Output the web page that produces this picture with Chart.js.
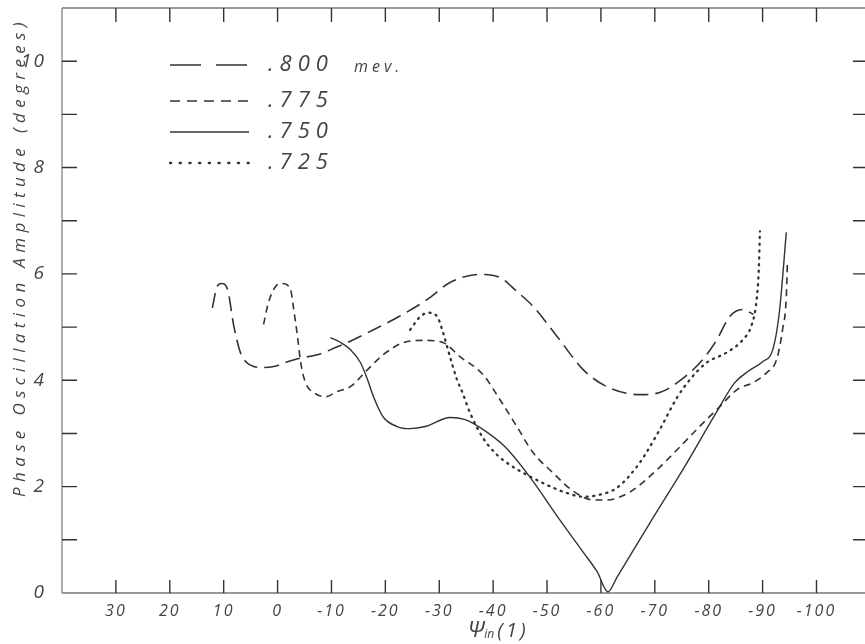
<!DOCTYPE html>
<html>
<head>
<meta charset="utf-8">
<script src="https://cdn.jsdelivr.net/npm/chart.js@4.4.1/dist/chart.umd.min.js"></script>
<style>
  html, body { margin: 0; padding: 0; background: #fff; }
  canvas { display: block; }
</style>
</head>
<body>
<canvas id="chart" width="865" height="644"></canvas>
<script>
// psi_in(1) in degrees, amplitude in degrees
const psi800 = [12.1, 11.2, 10.4, 9.3, 8.1, 6.9, 5.9, 4.4, 2.8, 0.7, -1.9, -3.9, -7.4, -11.1, -13.0, -17.8, -22.2, -27.8, -32.0, -37.6, -41.3, -44.4, -47.4, -51.9, -56.7, -61.1, -67.2, -70.9, -74.1, -78.9, -81.5, -83.9, -86.3, -88.3];
const amp800 = [5.36, 5.77, 5.82, 5.71, 5.01, 4.52, 4.35, 4.26, 4.24, 4.26, 4.35, 4.41, 4.48, 4.63, 4.71, 4.95, 5.18, 5.52, 5.84, 5.99, 5.93, 5.67, 5.39, 4.82, 4.20, 3.88, 3.73, 3.77, 3.95, 4.39, 4.76, 5.20, 5.33, 5.24];

const psi775 = [2.6, 1.7, 0.4, -0.9, -2.4, -3.0, -3.7, -4.3, -5.2, -6.7, -8.9, -11.1, -13.5, -16.7, -19.6, -24.1, -27.4, -30.7, -33.9, -38.1, -41.3, -44.4, -47.4, -51.1, -54.8, -58.5, -61.1, -65.4, -70.0, -74.1, -78.3, -82.0, -85.2, -88.5, -90.7, -92.6, -93.7, -94.4, -94.6];
const amp775 = [5.05, 5.46, 5.76, 5.82, 5.71, 5.33, 4.82, 4.33, 3.95, 3.77, 3.69, 3.79, 3.88, 4.20, 4.48, 4.73, 4.75, 4.71, 4.44, 4.11, 3.63, 3.13, 2.64, 2.26, 1.92, 1.75, 1.75, 1.90, 2.28, 2.69, 3.13, 3.50, 3.82, 3.97, 4.14, 4.39, 4.95, 5.57, 6.21];

const psi750 = [-9.8, -11.7, -13.5, -15.4, -16.7, -17.8, -19.6, -22.2, -24.6, -27.4, -32.0, -34.8, -37.6, -42.2, -46.9, -52.4, -56.7, -59.3, -61.3, -63.0, -69.1, -75.2, -81.5, -84.8, -87.2, -90.0, -91.9, -93.1, -94.4];
const amp750 = [4.80, 4.71, 4.58, 4.33, 4.01, 3.69, 3.31, 3.13, 3.09, 3.13, 3.30, 3.26, 3.11, 2.75, 2.17, 1.37, 0.77, 0.40, 0.02, 0.30, 1.32, 2.32, 3.41, 3.95, 4.16, 4.35, 4.58, 5.27, 6.78];

const psi725 = [-24.6, -26.5, -28.0, -29.6, -30.7, -32.0, -33.3, -34.3, -35.7, -38.1, -40.7, -43.1, -46.3, -50.0, -53.7, -56.7, -59.8, -63.0, -67.2, -70.9, -74.1, -76.5, -79.6, -83.3, -86.3, -88.0, -88.9, -89.3, -89.5];
const amp725 = [4.95, 5.20, 5.27, 5.20, 4.90, 4.44, 4.01, 3.77, 3.39, 2.92, 2.60, 2.41, 2.22, 2.03, 1.88, 1.81, 1.85, 1.98, 2.45, 3.07, 3.67, 4.01, 4.33, 4.52, 4.76, 5.05, 5.52, 6.10, 6.80];

const seriesLabels = ['.800', '.775', '.750', '.725'];
const energyUnit = 'mev.';

const xTickValues = [30, 20, 10, 0, -10, -20, -30, -40, -50, -60, -70, -80, -90, -100];
const xTickLabels = ['30', '20', '10', '0', '-10', '-20', '-30', '-40', '-50', '-60', '-70', '-80', '-90', '-100'];
const yTickValues = [0, 2, 4, 6, 8, 10];
const yTickLabels = ['0', '2', '4', '6', '8', '10'];
const yMarkValues = [1, 2, 3, 4, 5, 6, 7, 8, 9, 10];

const INK = '#333';
const TEXT = '#444';
const FONT = '"Open Sans", "DejaVu Sans", sans-serif';

const toPoints = (xs, ys) => xs.map((x, i) => ({ x, y: ys[i] }));

// hand-drawn look: frame with inward ticks, rotated spaced title, legend inside the plot
const paperFrame = {
  id: 'paperFrame',
  beforeDraw(chart) {
    chart.ctx.letterSpacing = '2px';
  },
  afterDraw(chart) {
    const { ctx, chartArea: a, scales: { x, y } } = chart;
    ctx.save();
    ctx.letterSpacing = '0px';
    ctx.strokeStyle = INK;
    ctx.lineWidth = 1.2;

    ctx.beginPath();
    ctx.moveTo(a.left, a.top); ctx.lineTo(a.right, a.top);
    ctx.moveTo(a.left, a.bottom); ctx.lineTo(a.right, a.bottom);
    ctx.stroke();
    ctx.strokeStyle = '#777';
    ctx.beginPath();
    ctx.moveTo(a.left, a.top); ctx.lineTo(a.left, a.bottom);
    ctx.stroke();

    ctx.strokeStyle = INK;
    ctx.lineWidth = 1.4;
    ctx.beginPath();
    xTickValues.forEach(v => {
      const px = x.getPixelForValue(v);
      ctx.moveTo(px, a.bottom); ctx.lineTo(px, a.bottom - 13);
      ctx.moveTo(px, a.top); ctx.lineTo(px, a.top + 14);
    });
    yMarkValues.forEach(v => {
      const py = y.getPixelForValue(v);
      ctx.moveTo(a.left, py); ctx.lineTo(a.left + 15, py);
      ctx.moveTo(a.right, py); ctx.lineTo(a.right - 12, py);
    });
    ctx.stroke();

    // y title, letters spread like the lettering guide
    ctx.fillStyle = TEXT;
    ctx.save();
    ctx.translate(20, 257);
    ctx.rotate(-Math.PI / 2);
    ctx.font = `italic 17px ${FONT}`;
    ctx.textAlign = 'center';
    ctx.textBaseline = 'middle';
    const yTitle = 'Phase Oscillation Amplitude (degrees)';
    const base = ctx.measureText(yTitle).width;
    ctx.letterSpacing = ((480 - base) / yTitle.length).toFixed(2) + 'px';
    ctx.fillText(yTitle, 0, 0);
    ctx.restore();

    // x title: psi with subscript "in"
    ctx.textBaseline = 'alphabetic';
    ctx.textAlign = 'left';
    let tx = 468;
    const ty = 637;
    ctx.font = `italic 22px ${FONT}`;
    ctx.fillText('Ψ', tx, ty);
    tx += ctx.measureText('Ψ').width;
    ctx.font = `italic 12px ${FONT}`;
    ctx.fillText('in', tx, ty + 1);
    tx += ctx.measureText('in').width + 3;
    ctx.font = `italic 20px ${FONT}`;
    ctx.letterSpacing = '3px';
    ctx.fillText('(1)', tx, ty);

    // legend
    const rows = [65, 101, 132, 163];
    const legendDash = [[31, 15], [10, 7], [], [1.2, 8.5]];
    chart.data.datasets.forEach((ds, i) => {
      const ly = rows[i];
      ctx.save();
      ctx.strokeStyle = INK;
      ctx.lineWidth = ds.borderWidth;
      ctx.lineCap = ds.borderCapStyle || 'butt';
      ctx.setLineDash(legendDash[i]);
      ctx.beginPath();
      ctx.moveTo(170, ly); ctx.lineTo(249, ly);
      ctx.stroke();
      ctx.restore();
      ctx.font = `italic 22px ${FONT}`;
      ctx.letterSpacing = '6px';
      ctx.textBaseline = 'middle';
      ctx.fillText(ds.label, 268, ly);
      if (i === 0) {
        ctx.font = `italic 16px ${FONT}`;
        ctx.letterSpacing = '4px';
        ctx.fillText(energyUnit, 354, ly + 2);
      }
    });
    ctx.restore();
    ctx.letterSpacing = '0px';
  }
};

const lineStyles = [
  { borderDash: [15, 7], borderWidth: 1.6 },
  { borderDash: [7, 5], borderWidth: 1.6 },
  { borderDash: [], borderWidth: 1.4 },
  { borderDash: [1.2, 5.5], borderWidth: 2.3, borderCapStyle: 'round' },
];

const seriesData = [
  toPoints(psi800, amp800),
  toPoints(psi775, amp775),
  toPoints(psi750, amp750),
  toPoints(psi725, amp725),
];

new Chart(document.getElementById('chart'), {
  type: 'line',
  data: {
    datasets: seriesData.map((data, i) => ({
      label: seriesLabels[i],
      data,
      borderColor: INK,
      fill: false,
      pointRadius: 0,
      cubicInterpolationMode: 'monotone',
      ...lineStyles[i],
    })),
  },
  options: {
    responsive: false,
    animation: false,
    layout: { padding: { top: 8, right: 0, bottom: 0, left: 0 } },
    plugins: {
      legend: { display: false },
      tooltip: { enabled: false },
    },
    scales: {
      x: {
        type: 'linear',
        reverse: true,
        min: -109,
        max: 40,
        grid: { display: false },
        border: { display: false },
        afterBuildTicks: (scale) => { scale.ticks = xTickValues.map(value => ({ value })); },
        afterFit: (scale) => {
          scale.height = 51;
          scale.paddingLeft = 0;
          scale.paddingRight = 0;
        },
        ticks: {
          autoSkip: false,
          maxRotation: 0,
          padding: 1,
          color: TEXT,
          font: { family: FONT, size: 16, style: 'italic' },
          callback: (v, i) => xTickLabels[i],
        },
      },
      y: {
        min: 0,
        max: 11,
        grid: { display: false },
        border: { display: false },
        afterBuildTicks: (scale) => { scale.ticks = yTickValues.map(value => ({ value })); },
        afterFit: (scale) => {
          scale.width = 62;
          scale.paddingTop = 0;
          scale.paddingBottom = 0;
        },
        ticks: {
          autoSkip: false,
          padding: 8,
          color: TEXT,
          font: { family: FONT, size: 19, style: 'italic' },
          callback: (v, i) => yTickLabels[i],
        },
      },
    },
  },
  plugins: [paperFrame],
});
</script>
</body>
</html>
